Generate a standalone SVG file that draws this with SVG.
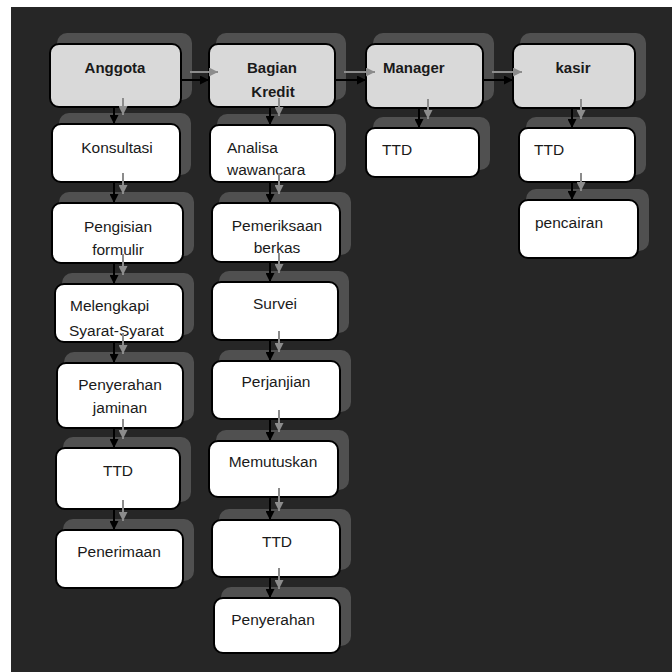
<svg xmlns="http://www.w3.org/2000/svg" width="672" height="672" viewBox="0 0 672 672">
<defs>
<style>
.sh{fill:#505050}
.hd{fill:#d9d9d9;stroke:#000;stroke-width:2}
.bx{fill:#fff;stroke:#000;stroke-width:2}
text{font-family:"Liberation Sans",Arial,sans-serif;font-size:15.5px;fill:#1a1a1a}
.b{font-weight:bold;font-size:15px}
.c{text-anchor:middle}
.ka{stroke:#000;stroke-width:2;fill:none}
.ga{stroke:#8c8c8c;stroke-width:2;fill:none}
</style>
<marker id="ah" markerUnits="userSpaceOnUse" markerWidth="9" markerHeight="9" refX="9" refY="4.5" orient="auto"><path d="M0,0 L9,4.5 L0,9 z" fill="#000"/></marker>
<marker id="gh" markerUnits="userSpaceOnUse" markerWidth="9" markerHeight="9" refX="9" refY="4.5" orient="auto"><path d="M0,0 L9,4.5 L0,9 z" fill="#8c8c8c"/></marker>
</defs>
<rect x="0" y="0" width="672" height="672" fill="#fff"/>
<rect x="11" y="7" width="661" height="665" fill="#262626"/>

<g id="shadows">
<rect class="sh" x="57" y="33" width="135" height="67" rx="10"/>
<rect class="sh" x="59" y="113" width="132" height="62" rx="10"/>
<rect class="sh" x="59" y="192" width="135" height="64" rx="10"/>
<rect class="sh" x="62" y="273" width="132" height="62" rx="10"/>
<rect class="sh" x="64" y="352" width="130" height="69" rx="10"/>
<rect class="sh" x="63" y="437" width="128" height="65" rx="10"/>
<rect class="sh" x="63" y="519" width="131" height="62" rx="10"/>
<rect class="sh" x="216" y="33" width="130" height="67" rx="10"/>
<rect class="sh" x="217" y="114" width="129" height="61" rx="10"/>
<rect class="sh" x="219" y="192" width="132" height="63" rx="10"/>
<rect class="sh" x="219" y="271" width="130" height="62" rx="10"/>
<rect class="sh" x="219" y="350" width="132" height="62" rx="10"/>
<rect class="sh" x="216" y="430" width="133" height="60" rx="10"/>
<rect class="sh" x="219" y="509" width="132" height="61" rx="10"/>
<rect class="sh" x="221" y="587" width="130" height="59" rx="10"/>
<rect class="sh" x="373" y="33" width="121" height="68" rx="10"/>
<rect class="sh" x="373" y="117" width="117" height="53" rx="10"/>
<rect class="sh" x="520" y="33" width="126" height="68" rx="10"/>
<rect class="sh" x="526" y="117" width="120" height="58" rx="10"/>
<rect class="sh" x="526" y="189" width="123" height="62" rx="10"/>
</g>

<g id="n-anggota"><rect class="hd" x="50" y="44" width="131" height="63" rx="9"/><text class="b c" x="115" y="73">Anggota</text></g>
<g id="n-konsultasi"><rect class="bx" x="52" y="124" width="128" height="58" rx="9"/><text class="c" x="117" y="153">Konsultasi</text></g>
<g id="n-pengisian"><rect class="bx" x="52" y="203" width="131" height="60" rx="9"/><text class="c" x="118" y="232">Pengisian</text><text class="c" x="118" y="255">formulir</text></g>
<g id="n-melengkapi"><rect class="bx" x="55" y="284" width="128" height="58" rx="9"/><text x="70" y="311">Melengkapi</text><text x="69" y="336">Syarat-Syarat</text></g>
<g id="n-jaminan"><rect class="bx" x="57" y="363" width="126" height="65" rx="9"/><text class="c" x="120" y="390">Penyerahan</text><text class="c" x="120" y="413">jaminan</text></g>
<g id="n-ttd1"><rect class="bx" x="56" y="448" width="124" height="61" rx="9"/><text class="c" x="118" y="476">TTD</text></g>
<g id="n-penerimaan"><rect class="bx" x="56" y="530" width="127" height="58" rx="9"/><text class="c" x="119" y="557">Penerimaan</text></g>

<g id="n-bagian"><rect class="hd" x="209" y="44" width="126" height="63" rx="9"/><text class="b c" x="272" y="73">Bagian</text><text class="b c" x="273" y="97">Kredit</text></g>
<g id="n-analisa"><rect class="bx" x="210" y="125" width="125" height="57" rx="9"/><text x="227" y="153">Analisa</text><text x="227" y="175">wawancara</text></g>
<g id="n-pemeriksaan"><rect class="bx" x="212" y="203" width="128" height="59" rx="9"/><text class="c" x="277" y="231">Pemeriksaan</text><text class="c" x="277" y="253">berkas</text></g>
<g id="n-survei"><rect class="bx" x="212" y="282" width="126" height="58" rx="9"/><text class="c" x="275" y="309">Survei</text></g>
<g id="n-perjanjian"><rect class="bx" x="212" y="361" width="128" height="58" rx="9"/><text class="c" x="276" y="387">Perjanjian</text></g>
<g id="n-memutuskan"><rect class="bx" x="209" y="441" width="129" height="56" rx="9"/><text class="c" x="273" y="467">Memutuskan</text></g>
<g id="n-ttd2"><rect class="bx" x="212" y="520" width="128" height="57" rx="9"/><text class="c" x="277" y="547">TTD</text></g>
<g id="n-penyerahan"><rect class="bx" x="214" y="598" width="126" height="55" rx="9"/><text class="c" x="273" y="625">Penyerahan</text></g>

<g id="n-manager"><rect class="hd" x="366" y="44" width="117" height="64" rx="9"/><text class="b" x="383" y="73">Manager</text></g>
<g id="n-ttd3"><rect class="bx" x="366" y="128" width="113" height="49" rx="9"/><text x="382" y="155">TTD</text></g>

<g id="n-kasir"><rect class="hd" x="513" y="44" width="122" height="64" rx="9"/><text class="b c" x="573" y="73">kasir</text></g>
<g id="n-ttd4"><rect class="bx" x="519" y="128" width="116" height="54" rx="9"/><text x="534" y="155">TTD</text></g>
<g id="n-pencairan"><rect class="bx" x="519" y="200" width="119" height="58" rx="9"/><text x="535" y="228">pencairan</text></g>

<g id="connectors">
<g class="ka" marker-end="url(#ah)">
<line x1="181" y1="80" x2="209" y2="80"/>
<line x1="335" y1="80" x2="366" y2="80"/>
<line x1="483" y1="80" x2="513" y2="80"/>
<line x1="114" y1="107" x2="114" y2="124"/>
<line x1="114" y1="182" x2="114" y2="203"/>
<line x1="114" y1="263" x2="114" y2="284"/>
<line x1="114" y1="342" x2="114" y2="363"/>
<line x1="114" y1="428" x2="114" y2="448"/>
<line x1="114" y1="509" x2="114" y2="530"/>
<line x1="270" y1="107" x2="270" y2="125"/>
<line x1="270" y1="182" x2="270" y2="203"/>
<line x1="270" y1="262" x2="270" y2="282"/>
<line x1="270" y1="340" x2="270" y2="361"/>
<line x1="270" y1="419" x2="270" y2="441"/>
<line x1="270" y1="497" x2="270" y2="520"/>
<line x1="270" y1="577" x2="270" y2="598"/>
<line x1="419" y1="108" x2="419" y2="128"/>
<line x1="572" y1="108" x2="572" y2="128"/>
<line x1="572" y1="182" x2="572" y2="200"/>
</g>
<g class="ga" marker-end="url(#gh)">
<line x1="190" y1="72" x2="218" y2="72"/>
<line x1="344" y1="72" x2="375" y2="72"/>
<line x1="492" y1="72" x2="522" y2="72"/>
<line x1="123" y1="98" x2="123" y2="115"/>
<line x1="123" y1="173" x2="123" y2="194"/>
<line x1="123" y1="254" x2="123" y2="275"/>
<line x1="123" y1="333" x2="123" y2="354"/>
<line x1="123" y1="419" x2="123" y2="439"/>
<line x1="123" y1="500" x2="123" y2="521"/>
<line x1="279" y1="98" x2="279" y2="116"/>
<line x1="279" y1="173" x2="279" y2="194"/>
<line x1="279" y1="253" x2="279" y2="273"/>
<line x1="279" y1="331" x2="279" y2="352"/>
<line x1="279" y1="410" x2="279" y2="432"/>
<line x1="279" y1="488" x2="279" y2="511"/>
<line x1="279" y1="568" x2="279" y2="589"/>
<line x1="428" y1="99" x2="428" y2="119"/>
<line x1="581" y1="99" x2="581" y2="119"/>
<line x1="581" y1="173" x2="581" y2="191"/>
</g>
</g>
</svg>
